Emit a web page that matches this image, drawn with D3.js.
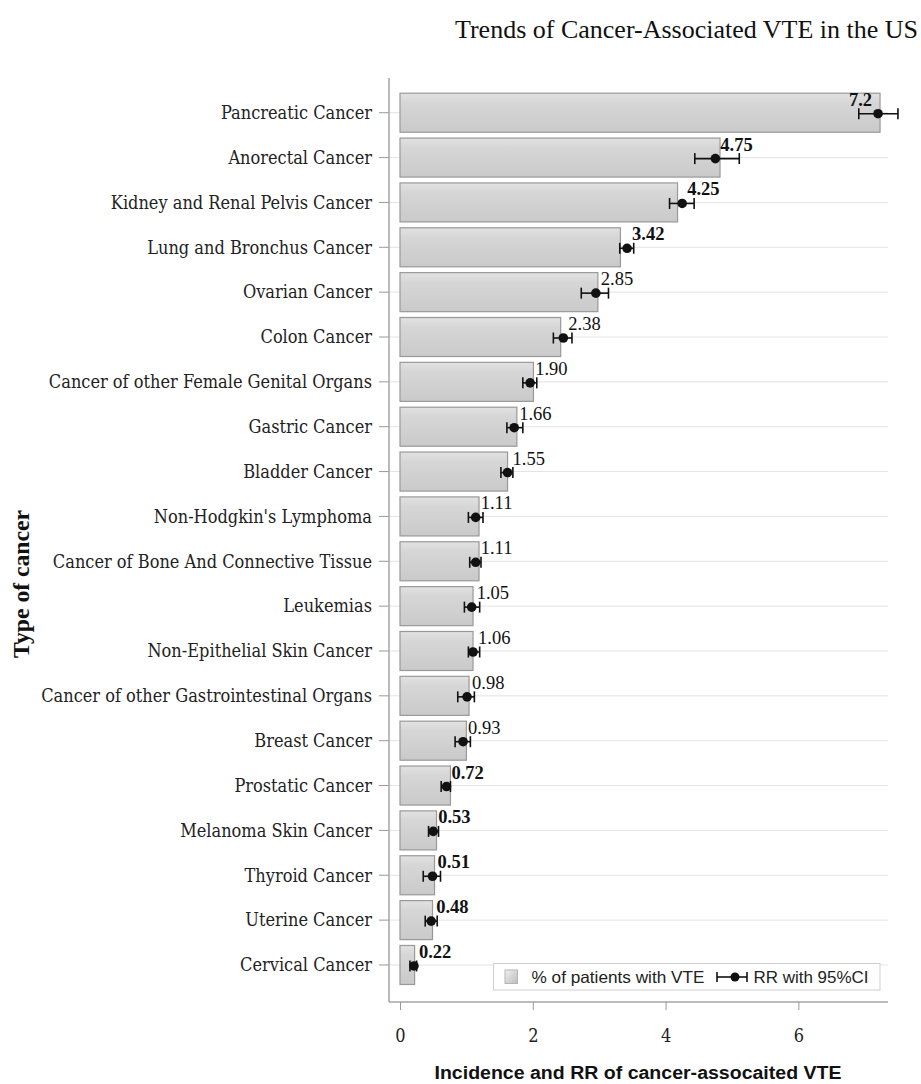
<!DOCTYPE html>
<html><head><meta charset="utf-8">
<script src="https://cdn.jsdelivr.net/npm/d3@7"></script>
<style>body{margin:0;background:#fff} svg{display:block}</style>
</head><body><svg id="c" width="921" height="1084"></svg>
<script>
const categories = ["Pancreatic Cancer","Anorectal Cancer","Kidney and Renal Pelvis Cancer","Lung and Bronchus Cancer","Ovarian Cancer","Colon Cancer","Cancer of other Female Genital Organs","Gastric Cancer","Bladder Cancer","Non-Hodgkin's Lymphoma","Cancer of Bone And Connective Tissue","Leukemias","Non-Epithelial Skin Cancer","Cancer of other Gastrointestinal Organs","Breast Cancer","Prostatic Cancer","Melanoma Skin Cancer","Thyroid Cancer","Uterine Cancer","Cervical Cancer"];
const pctVTE = [7.23,4.82,4.18,3.32,2.98,2.42,2.01,1.76,1.62,1.19,1.19,1.10,1.10,1.04,1.00,0.76,0.55,0.52,0.49,0.22];
const rr     = [7.20,4.75,4.25,3.42,2.95,2.46,1.96,1.72,1.62,1.14,1.14,1.08,1.10,1.01,0.95,0.70,0.50,0.49,0.47,0.21];
const rrLow  = [6.91,4.44,4.06,3.31,2.73,2.31,1.85,1.61,1.52,1.03,1.05,0.97,1.03,0.87,0.83,0.62,0.43,0.35,0.38,0.15];
const rrHigh = [7.50,5.11,4.43,3.52,3.14,2.59,2.06,1.85,1.70,1.25,1.22,1.20,1.20,1.12,1.06,0.76,0.58,0.61,0.56,0.25];
const rrLabels = ["7.2","4.75","4.25","3.42","2.85","2.38","1.90","1.66","1.55","1.11","1.11","1.05","1.06","0.98","0.93","0.72","0.53","0.51","0.48","0.22"];
const xTicks = [0,2,4,6];
const title = "Trends of Cancer-Associated VTE in the US";
const xTitle = "Incidence and RR of cancer-assocaited VTE";
const yTitle = "Type of cancer";
const legendLabels = ["% of patients with VTE","RR with 95%CI"];

const svg = d3.select("#c");
const frameL = 389, frameR = 888, frameT = 78, frameB = 1002;
const x = d3.scaleLinear().domain([0, 7.35]).range([400, 888]);
const y = d3.scaleBand().domain(categories).range([90.3, 987.4]).paddingInner(0.13).paddingOuter(0.065);
const serifC = "'DejaVu Serif Condensed','DejaVu Serif',serif";
const times = "'Liberation Serif','Times New Roman',serif";
const sans = "'Liberation Sans',Arial,sans-serif";

const defs = svg.append("defs");
const g1 = defs.append("linearGradient").attr("id","barg").attr("x1",0).attr("y1",0).attr("x2",0).attr("y2",1);
g1.append("stop").attr("offset","0%").attr("stop-color","#e2e2e2");
g1.append("stop").attr("offset","25%").attr("stop-color","#d6d6d6");
g1.append("stop").attr("offset","100%").attr("stop-color","#cacaca");
const g2 = defs.append("linearGradient").attr("id","legg").attr("x1",0).attr("y1",0).attr("x2",1).attr("y2",1);
g2.append("stop").attr("offset","0%").attr("stop-color","#f0f0f0");
g2.append("stop").attr("offset","100%").attr("stop-color","#bdbdbd");

// title
svg.append("text").attr("x",918).attr("y",38).attr("text-anchor","end")
  .attr("font-family",times).attr("font-size",25).attr("fill","#111")
  .attr("textLength",463).attr("lengthAdjust","spacingAndGlyphs").text(title);

// gridlines
svg.append("g").selectAll("line").data(categories).join("line")
  .attr("x1",frameL).attr("x2",frameR)
  .attr("y1",d=>y(d)+y.bandwidth()/2).attr("y2",d=>y(d)+y.bandwidth()/2)
  .attr("stroke","#e3e3e3").attr("stroke-width",1);

// bars
svg.append("g").selectAll("rect").data(categories).join("rect")
  .attr("x",x(0)).attr("y",d=>y(d))
  .attr("width",(d,i)=>x(pctVTE[i])-x(0)).attr("height",y.bandwidth())
  .attr("fill","url(#barg)").attr("stroke","#999").attr("stroke-width",1.2);

// axes frame
const yAxis = d3.axisLeft(y).tickSize(10).tickPadding(6);
const yg = svg.append("g").attr("transform",`translate(${frameL},0)`).call(yAxis);
yg.select(".domain").remove();
yg.selectAll(".tick line").attr("stroke","#999");
yg.selectAll(".tick text").attr("font-family",serifC).attr("font-size",18).attr("fill","#222")
  .attr("dy","0.35em").attr("dx","-1");
svg.append("line").attr("x1",frameL).attr("x2",frameL).attr("y1",frameT).attr("y2",frameB).attr("stroke","#a5a5a5").attr("stroke-width",1.5);
svg.append("line").attr("x1",frameL).attr("x2",frameR).attr("y1",frameB).attr("y2",frameB).attr("stroke","#a5a5a5").attr("stroke-width",1.5);

const xAxis = d3.axisBottom(x).tickValues(xTicks).tickFormat(d3.format("d")).tickSize(8).tickPadding(19);
const xg = svg.append("g").attr("transform",`translate(0,${frameB})`).call(xAxis);
xg.select(".domain").remove();
xg.selectAll(".tick line").attr("stroke","#999");
xg.selectAll(".tick text").attr("font-family",serifC).attr("font-size",18).attr("fill","#222");

// error bars
const eb = svg.append("g").attr("stroke","#111").attr("stroke-width",1.6);
categories.forEach((c,i)=>{
  const cy = y(c)+y.bandwidth()/2+1;
  eb.append("line").attr("x1",x(rrLow[i])).attr("x2",x(rrHigh[i])).attr("y1",cy).attr("y2",cy);
  eb.append("line").attr("x1",x(rrLow[i])).attr("x2",x(rrLow[i])).attr("y1",cy-5.5).attr("y2",cy+5.5);
  eb.append("line").attr("x1",x(rrHigh[i])).attr("x2",x(rrHigh[i])).attr("y1",cy-5.5).attr("y2",cy+5.5);
});
svg.append("g").selectAll("circle").data(categories).join("circle")
  .attr("cx",(d,i)=>x(rr[i])).attr("cy",d=>y(d)+y.bandwidth()/2+1).attr("r",4.8).attr("fill","#111");

// value labels
svg.append("g").selectAll("text").data(categories).join("text")
  .attr("x",(d,i)=> i===0 ? x(rr[i])-6 : x(rr[i])+5)
  .attr("y",d=>y(d)+y.bandwidth()/2-7)
  .attr("text-anchor",(d,i)=> i===0 ? "end" : "start")
  .attr("font-family",times)
  .attr("font-size",18.5)
  .attr("font-weight",(d,i)=> (rr[i]>=3.4 || rr[i]<=0.75) ? "bold" : "normal")
  .attr("fill","#111").text((d,i)=>rrLabels[i]);

// legend
const lg = svg.append("g");
lg.append("rect").attr("x",493.5).attr("y",963.5).attr("width",386.5).attr("height",26.5)
  .attr("fill","#fff").attr("stroke","#cfcfcf");
lg.append("rect").attr("x",505).attr("y",970).attr("width",12.5).attr("height",13.5)
  .attr("fill","url(#legg)").attr("stroke","#b5b5b5");
lg.append("text").attr("x",531.5).attr("y",983).attr("font-family",sans).attr("font-size",16.5).attr("fill","#222")
  .attr("textLength",173).attr("lengthAdjust","spacingAndGlyphs").text(legendLabels[0]);
const ly = 977;
lg.append("line").attr("x1",717).attr("x2",747).attr("y1",ly).attr("y2",ly).attr("stroke","#111").attr("stroke-width",1.6);
lg.append("line").attr("x1",717).attr("x2",717).attr("y1",ly-5).attr("y2",ly+5).attr("stroke","#111").attr("stroke-width",1.6);
lg.append("line").attr("x1",747).attr("x2",747).attr("y1",ly-5).attr("y2",ly+5).attr("stroke","#111").attr("stroke-width",1.6);
lg.append("circle").attr("cx",735).attr("cy",ly).attr("r",4.5).attr("fill","#111");
lg.append("text").attr("x",753.5).attr("y",983).attr("font-family",sans).attr("font-size",16.5).attr("fill","#222")
  .attr("textLength",115).attr("lengthAdjust","spacingAndGlyphs").text(legendLabels[1]);

// axis titles
svg.append("text").attr("x",638).attr("y",1079).attr("text-anchor","middle")
  .attr("font-family",sans).attr("font-weight","bold").attr("font-size",18).attr("fill","#111")
  .attr("textLength",407).attr("lengthAdjust","spacingAndGlyphs").text(xTitle);
svg.append("text").attr("transform","translate(29,584) rotate(-90)").attr("text-anchor","middle")
  .attr("font-family",times).attr("font-weight","bold").attr("font-size",23).attr("fill","#111")
  .attr("textLength",148).attr("lengthAdjust","spacingAndGlyphs").text(yTitle);
</script></body></html>
